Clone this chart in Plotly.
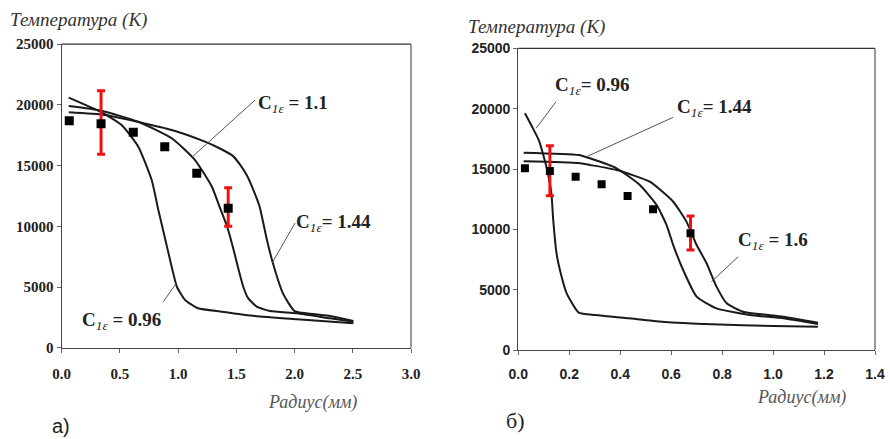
import plotly.graph_objects as go

# ---------------- data: panel a) ----------------
a_x_096 = [0.06, 0.34, 0.515, 0.658, 0.773, 0.83, 0.89, 0.95, 0.99, 1.06, 1.17, 1.375, 1.66, 2.02, 2.505]
a_y_096 = [20600, 19400, 18345, 16560, 13810, 11340, 8900, 6450, 5000, 3930, 3245, 2965, 2610, 2340, 2010]
a_x_11 = [0.06, 0.34, 0.658, 0.945, 1.145, 1.29, 1.36, 1.42, 1.47, 1.52, 1.56, 1.60, 1.675, 1.79, 2.02, 2.305, 2.505]
a_y_11 = [19900, 19520, 18615, 17250, 15460, 13260, 11500, 10000, 8300, 6400, 5000, 4100, 3380, 3020, 2830, 2420, 2140]
a_x_144 = [0.06, 0.372, 0.945, 1.23, 1.35, 1.47, 1.53, 1.59, 1.65, 1.70, 1.76, 1.81, 1.90, 2.0, 2.16, 2.305, 2.505]
a_y_144 = [19390, 19170, 17930, 16970, 16450, 15800, 15100, 14200, 12900, 11610, 9000, 7100, 4480, 3020, 2775, 2610, 2200]
a_exp_x = [0.065, 0.338, 0.615, 0.885, 1.16, 1.43]
a_exp_y = [18700, 18450, 17740, 16560, 14365, 11480]
a_err_x = [0.338, 1.43]
a_err_y = [18450, 11480]
a_err_plus = [2720, 1700]
a_err_minus = [2520, 1480]
a_xticks = [0.0, 0.5, 1.0, 1.5, 2.0, 2.5, 3.0]

# ---------------- data: panel б) ----------------
b_x_096 = [0.026, 0.054, 0.08, 0.10, 0.116, 0.13, 0.137, 0.15, 0.17, 0.19, 0.237, 0.302, 0.433, 0.564, 0.76, 1.0, 1.176]
b_y_096 = [19620, 18510, 17410, 16020, 14650, 12990, 10780, 8015, 6080, 4700, 3100, 2900, 2630, 2350, 2130, 1990, 1930]
b_x_144 = [0.021, 0.237, 0.281, 0.386, 0.477, 0.543, 0.582, 0.608, 0.647, 0.70, 0.778, 0.909, 1.04, 1.176]
b_y_144 = [16360, 16165, 15890, 15060, 13680, 12020, 10360, 8700, 6630, 4420, 3455, 2900, 2630, 2155]
b_x_16 = [0.021, 0.237, 0.281, 0.386, 0.516, 0.608, 0.66, 0.70, 0.739, 0.778, 0.818, 0.882, 1.04, 1.176]
b_y_16 = [15650, 15500, 15340, 14920, 13950, 12290, 10640, 8700, 7190, 5250, 3870, 3175, 2760, 2265]
b_exp_x = [0.026, 0.124, 0.225, 0.327, 0.429, 0.529, 0.676]
b_exp_y = [15060, 14840, 14370, 13740, 12770, 11660, 9670]
b_err_x = [0.124, 0.676]
b_err_y = [14840, 9670]
b_err_plus = [2100, 1440]
b_err_minus = [2050, 1380]
b_xticks = [0.0, 0.2, 0.4, 0.6, 0.8, 1.0, 1.2, 1.4]

y_ticks = [0, 5000, 10000, 15000, 20000, 25000]

W, H = 890, 439
CURVE = dict(color="#1a1a1a", width=2, shape="spline", smoothing=0.5)

fig = go.Figure()

def add_panel(xa, ya, curves, ex, ey, erx, ery, erp, erm, msize):
    for cx, cy in curves:
        fig.add_trace(go.Scatter(x=cx, y=cy, mode="lines", line=CURVE,
                                 xaxis=xa, yaxis=ya, showlegend=False, hoverinfo="skip"))
    fig.add_trace(go.Scatter(x=erx, y=ery, mode="markers",
                             marker=dict(color="rgba(0,0,0,0)", size=1),
                             error_y=dict(type="data", array=erp, arrayminus=erm,
                                          color="#ee1111", thickness=3, width=4),
                             xaxis=xa, yaxis=ya, showlegend=False, hoverinfo="skip"))
    fig.add_trace(go.Scatter(x=ex, y=ey, mode="markers",
                             marker=dict(symbol="square", color="black", size=msize),
                             xaxis=xa, yaxis=ya, showlegend=False))

add_panel("x", "y", [(a_x_096, a_y_096), (a_x_11, a_y_11), (a_x_144, a_y_144)],
          a_exp_x, a_exp_y, a_err_x, a_err_y, a_err_plus, a_err_minus, 9)
add_panel("x2", "y2", [(b_x_096, b_y_096), (b_x_144, b_y_144), (b_x_16, b_y_16)],
          b_exp_x, b_exp_y, b_err_x, b_err_y, b_err_plus, b_err_minus, 8)

serif = "Liberation Serif, Times New Roman, Times, serif"
sans = "Liberation Sans, Arial, Helvetica, sans-serif"

def px_x(p):
    return p / W

def px_y(p):
    return 1 - p / H

axis_common = dict(showgrid=False, zeroline=False, showline=True, linecolor="#444",
                   linewidth=1.3, ticks="outside", ticklen=4, tickcolor="#666", tickwidth=1,
                   automargin=False)

fig.update_layout(
    template="none",
    width=W, height=H, margin=dict(l=0, r=0, t=0, b=0, pad=0),
    paper_bgcolor="white", plot_bgcolor="white",
    xaxis=dict(domain=[px_x(61.7), px_x(411)], range=[0, 3.0], tickvals=a_xticks,
               tickformat=".1f", anchor="y",
               tickfont=dict(family=serif, size=15, color="#222", weight="bold"),
               ticklabelstandoff=8, **axis_common),
    yaxis=dict(domain=[px_y(347.7), px_y(44.2)], range=[0, 25000], tickvals=y_ticks,
               tickformat="d", anchor="x",
               tickfont=dict(family=serif, size=15, color="#222", weight="bold"),
               **axis_common),
    xaxis2=dict(domain=[px_x(518.3), px_x(875)], range=[0, 1.4], tickvals=b_xticks,
                tickformat=".1f", anchor="y2",
                tickfont=dict(family=sans, size=14, color="#222", weight="bold"),
                ticklabelstandoff=7, **axis_common),
    yaxis2=dict(domain=[px_y(350), px_y(48.4)], range=[0, 25000], tickvals=y_ticks,
                tickformat="d", anchor="x2",
                tickfont=dict(family=sans, size=14, color="#222", weight="bold"),
                **axis_common),
)

# box borders (top and right)
for xr, yr in (("x", "y"), ("x2", "y2")):
    fig.add_shape(type="line", xref=f"{xr} domain", yref=f"{yr} domain",
                  x0=0, x1=1, y0=1, y1=1, line=dict(color="#333", width=1.2))
    fig.add_shape(type="line", xref=f"{xr} domain", yref=f"{yr} domain",
                  x0=1, x1=1, y0=0, y1=1, line=dict(color="#555", width=1.2))

# leader lines (data coords)
leaders = [
    ("x", "y", 1.66, 20390, 1.117, 15680),
    ("x", "y", 2.004, 10270, 1.807, 6977),
    ("x", "y", 0.873, 3790, 0.973, 5165),
    ("x2", "y2", 0.148, 20580, 0.07, 18380),
    ("x2", "y2", 0.608, 19290, 0.268, 16025),
    ("x2", "y2", 0.863, 7735, 0.758, 5660),
]
for xr, yr, x0, y0, x1, y1 in leaders:
    fig.add_shape(type="line", xref=xr, yref=yr, x0=x0, y0=y0, x1=x1, y1=y1,
                  line=dict(color="#555", width=1))

def clabel(txt_val, sep, x, y):
    fig.add_annotation(text=f"<b>C</b><sub><i>1ε</i></sub><b>{sep}= {txt_val}</b>",
                       xref="paper", yref="paper", x=px_x(x), y=px_y(y),
                       xanchor="left", yanchor="middle", showarrow=False,
                       font=dict(family=serif, size=19, color="#222"))

clabel("1.1", " ", 256, 104)
clabel("1.44", "", 294, 223)
clabel("0.96", " ", 80, 321)
clabel("0.96", "", 553, 86)
clabel("1.44", "", 675, 108)
clabel("1.6", " ", 736, 241)

def text(t, x, y, family, size, color, italic=False):
    s = f"<i>{t}</i>" if italic else t
    fig.add_annotation(text=s, xref="paper", yref="paper", x=px_x(x), y=px_y(y),
                       xanchor="left", yanchor="middle", showarrow=False,
                       font=dict(family=family, size=size, color=color))

text("Температура (K)", 8, 20, serif, 19, "#333", italic=True)
text("Температура (K)", 466, 27, serif, 19, "#333", italic=True)
text("Радиус(мм)", 266, 402, serif, 18, "#555", italic=True)
text("Радиус(мм)", 755, 397, serif, 18, "#555", italic=True)
text("а)", 50, 426, sans, 20, "#222")
text("б)", 504, 420, serif, 22, "#222")

fig.write_html("out.html", config={"displayModeBar": False},
               post_script="document.body.style.margin='0';document.body.style.overflow='hidden';")
